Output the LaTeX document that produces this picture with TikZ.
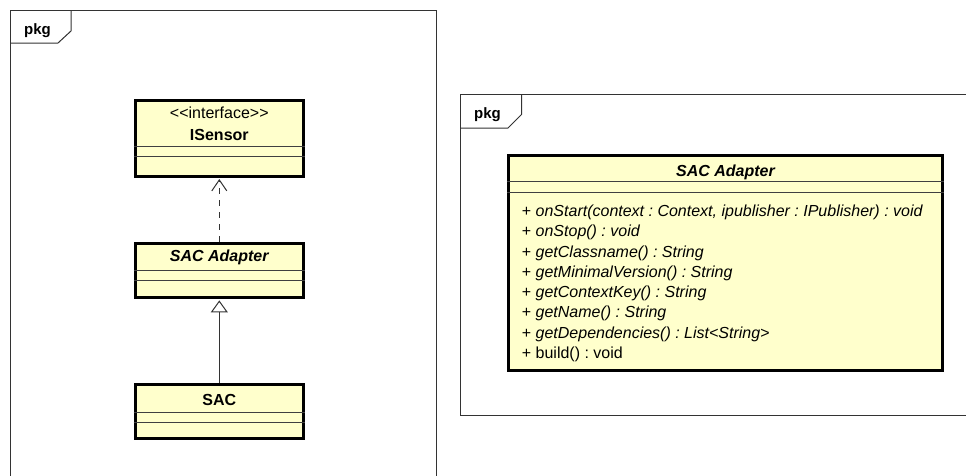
\documentclass[tikz,border=0pt]{standalone}
\usepackage{fontspec}
\setmainfont[Ligatures=NoCommon]{Liberation Sans}
\usetikzlibrary{arrows.meta,calc}
\definecolor{classfill}{HTML}{FFFFCC}
\definecolor{frameink}{HTML}{333333}
\definecolor{linkink}{HTML}{333333}
\frenchspacing
\begin{document}
\begin{tikzpicture}[x=1pt,y=-1pt,
  classbox/.style={draw=black, line width=3pt, fill=classfill, rectangle, inner sep=0pt},
  sepline/.style={draw=black!75, line width=1pt},
  frameline/.style={draw=frameink, line width=1pt},
  lbl/.style={font=\fontsize{16}{20}\selectfont, inner sep=0pt, anchor=base},
  oplbl/.style={font=\fontsize{16}{20}\selectfont, inner sep=0pt, anchor=base west},
  realizes/.style={draw=linkink, line width=1pt, dash pattern=on 6pt off 6pt,
    -{Straight Barb[length=11pt, width=15pt, line width=1pt]}, shorten >=1.5pt},
  generalizes/.style={draw=linkink, line width=1pt,
    -{Triangle[open, length=12pt, width=17pt, line width=1pt, fill=white]}, shorten >=1.5pt},
]
\useasboundingbox (0,0) rectangle (966,475);
\clip (0,0) rectangle (966,475);
\fill[white] (0,0) rectangle (966,475);

% ---- left package frame ----
\draw[frameline] (10,480) -- (10,10) -- (436.5,10) -- (436.5,480);
\draw[frameline] (10,43) -- (58,43) -- (71,31) -- (71,10);
\node[lbl, font=\fontsize{15}{18}\selectfont\bfseries] (pkgleft) at (37.5,34) {pkg};

% ---- right package frame ----
\draw[frameline] (970,94.5) -- (460,94.5) -- (460,415) -- (970,415);
\draw[frameline] (460,128) -- (508,128) -- (521.5,114.5) -- (521.5,94.5);
\node[lbl, font=\fontsize{15}{18}\selectfont\bfseries] (pkgright) at (487.5,118) {pkg};

% ---- class boxes (overview) ----
\node[classbox, minimum width=168.5pt, minimum height=76pt] (isensor) at (219.3,138) {};
\draw[sepline] ($(isensor.north west)+(0,48.3)$) -- ($(isensor.north east)+(0,48.3)$);
\draw[sepline] ($(isensor.north west)+(0,58.3)$) -- ($(isensor.north east)+(0,58.3)$);
\node[lbl] (isensorstereo) at (219.3,118.5) {{<}{<}interface{>}{>}};
\node[lbl, font=\fontsize{16}{20}\selectfont\bfseries] (isensorname) at (219.3,140) {ISensor};

\node[classbox, minimum width=168.5pt, minimum height=54pt] (adapter) at (219.3,270.4) {};
\draw[sepline] ($(adapter.north west)+(0,29)$) -- ($(adapter.north east)+(0,29)$);
\draw[sepline] ($(adapter.north west)+(0,39)$) -- ($(adapter.north east)+(0,39)$);
\node[lbl, font=\fontsize{16}{20}\selectfont\bfseries\itshape] (adaptername) at (219.3,261.5) {SAC Adapter};

\node[classbox, minimum width=168.5pt, minimum height=54pt] (sac) at (219.3,411.4) {};
\draw[sepline] ($(sac.north west)+(0,29.7)$) -- ($(sac.north east)+(0,29.7)$);
\draw[sepline] ($(sac.north west)+(0,40)$) -- ($(sac.north east)+(0,40)$);
\node[lbl, font=\fontsize{16}{20}\selectfont\bfseries] (sacname) at (219.3,405.7) {SAC};

% ---- relations ----
\draw[realizes] (adapter.north) -- (isensor.south);
\draw[generalizes] (sac.north) -- (adapter.south);

% ---- detailed SAC Adapter class ----
\node[classbox, minimum width=434.4pt, minimum height=215pt] (adapterfull) at (725.5,262.5) {};
\draw[sepline] ($(adapterfull.north west)+(0,28.3)$) -- ($(adapterfull.north east)+(0,28.3)$);
\draw[sepline] ($(adapterfull.north west)+(0,39.3)$) -- ($(adapterfull.north east)+(0,39.3)$);
\node[lbl, font=\fontsize{16}{20}\selectfont\bfseries\itshape] (adapterfullname) at (725.5,176.5) {SAC Adapter};

\node[oplbl] (op1) at (521.7,216.7) {+ \itshape onStart(context : Context, ipublisher : IPublisher) : void};
\node[oplbl] (op2) at (521.7,236.9) {+ \itshape onStop() : void};
\node[oplbl] (op3) at (521.7,257.2) {+ \itshape getClassname() : String};
\node[oplbl] (op4) at (521.7,277.4) {+ \itshape getMinimalVersion() : String};
\node[oplbl] (op5) at (521.7,297.6) {+ \itshape getContextKey() : String};
\node[oplbl] (op6) at (521.7,317.9) {+ \itshape getName() : String};
\node[oplbl] (op7) at (521.7,338.1) {+ \itshape getDependencies() : List{<}String{>}};
\node[oplbl] (op8) at (521.7,358.3) {+ build() : void};
\end{tikzpicture}
\end{document}
